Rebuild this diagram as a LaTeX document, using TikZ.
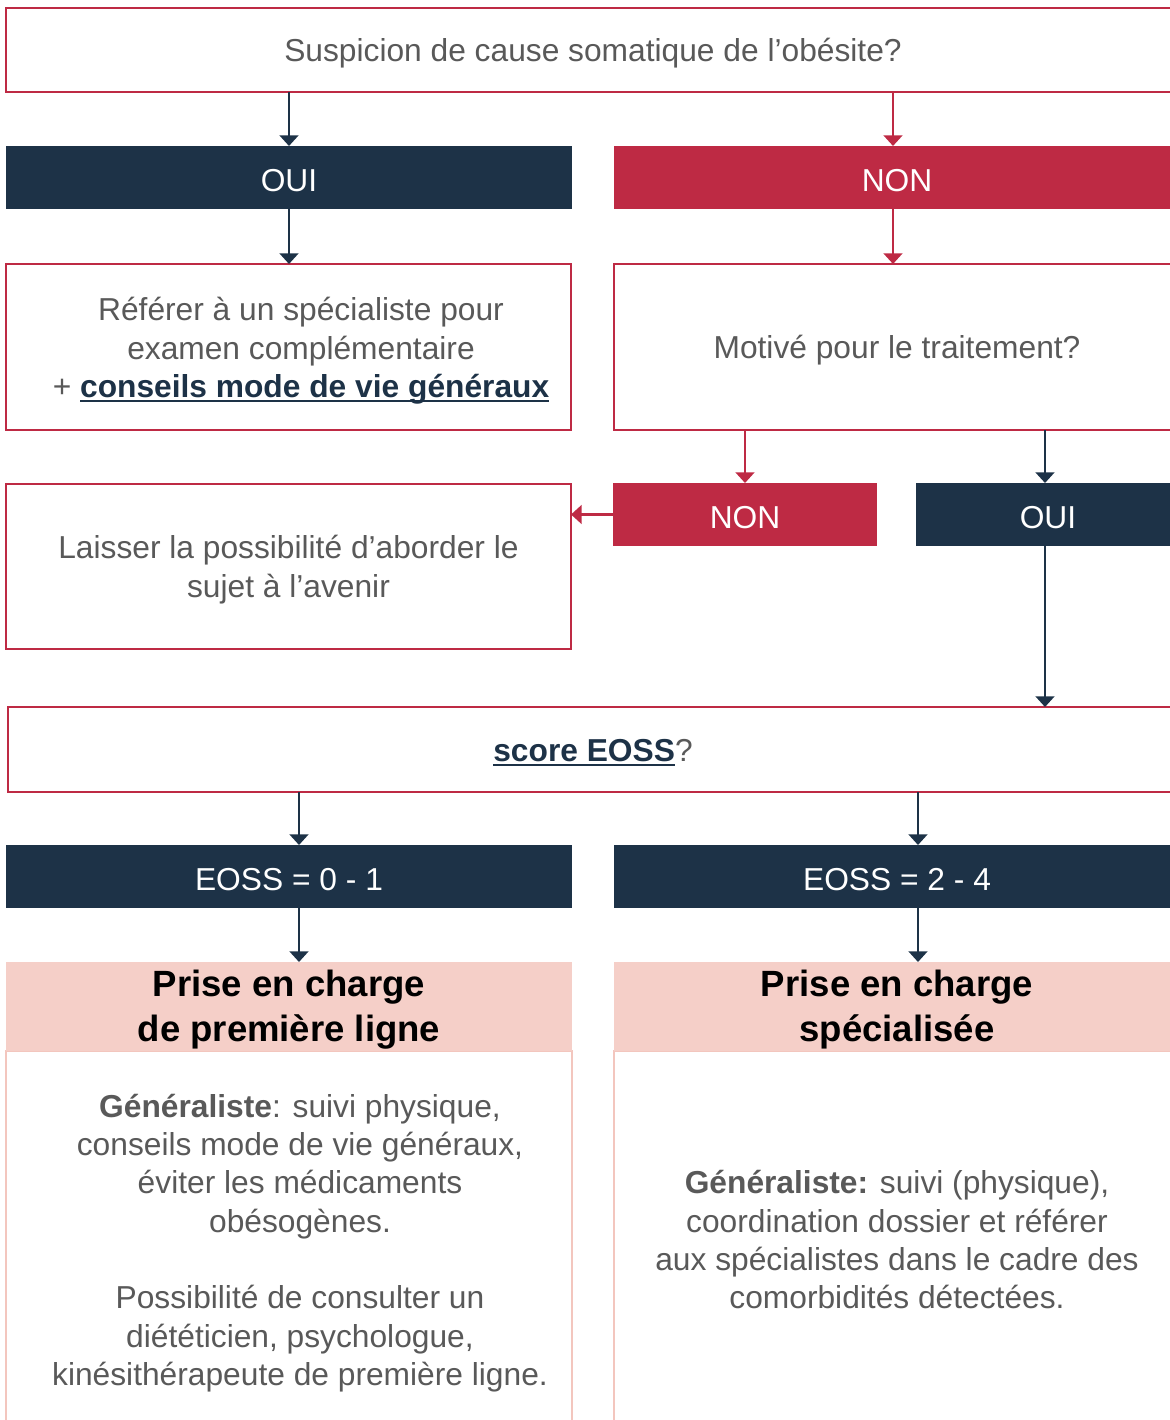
\documentclass[tikz,border=0pt]{standalone}
\usepackage{fontspec}
\setmainfont{Liberation Sans}
\usetikzlibrary{arrows.meta}
\definecolor{cred}{HTML}{BE2A44}
\definecolor{cnavy}{HTML}{1D3247}
\definecolor{cpink}{HTML}{F5CFC8}
\definecolor{cpinkline}{HTML}{F3C6BE}
\definecolor{cgray}{HTML}{595959}
\newlength\pxu
\setlength\pxu{0.75pt}
\newcommand\myul[1]{\leavevmode\setbox0\hbox{#1}\rlap{\rule[-3pt]{\wd0}{1.1pt}}\box0}
% style of box, x1, y1, x2, y2, name, text style, text
\newcommand\boxnode[8]{\node[#1, minimum width={(#4-#2)*\pxu}, minimum height={(#5-#3)*\pxu}] (#6) at ({(#2+#4)/2},{(#3+#5)/2}) {};
  \node[#7] (#6t) at ({(#2+#4)/2},{(#3+#5)/2+3}) {#8};}
\begin{document}
\begin{tikzpicture}[x=0.75pt,y=-0.75pt,
  base/.style={inner sep=0pt, outer sep=0pt, align=center, text=cgray, font=\fontsize{23.8}{28.75}\selectfont},
  redbox/.style={base, draw=cred, line width=1.5pt, fill=white},
  navybox/.style={base, fill=cnavy},
  redfill/.style={base, fill=cred},
  headbox/.style={base, fill=cpink},
  bodybox/.style={base, draw=cpinkline, line width=1.5pt, fill=white},
  txt/.style={base},
  wtxt/.style={base, text=white},
  htxt/.style={base, text=black, font=\fontsize{27.4}{33.75}\selectfont\bfseries},
  arrn/.style={draw=cnavy, line width=2pt, -{Triangle[width=14pt,length=8pt]}},
  arrr/.style={draw=cred, line width=2pt, -{Triangle[width=14pt,length=8pt]}}]
\useasboundingbox (0,0) rectangle (1170,1420);
\clip (0,0) rectangle (1170,1420);

\boxnode{redbox}{6}{8}{1180}{92}{top}{txt}{Suspicion de cause somatique de l’obésite?}
\boxnode{navybox}{6}{146}{572}{209}{oui1}{wtxt}{OUI}
\boxnode{redfill}{614}{146}{1180}{209}{non1}{wtxt}{NON}
\node[redbox, minimum width=565*\pxu, minimum height=166*\pxu] (refer) at (288.5,347) {};
\node[txt] (refertxt) at (301,351) {Référer à un spécialiste pour\\examen complémentaire\\+ \textcolor{cnavy}{\myul{\textbf{conseils mode de vie généraux}}}};
\boxnode{redbox}{614}{264}{1180}{430}{motiv}{txt}{Motivé pour le traitement?}
\boxnode{redfill}{613}{483}{877}{546}{non2}{wtxt}{NON}
\boxnode{navybox}{916}{483}{1180}{546}{oui2}{wtxt}{OUI}
\boxnode{redbox}{6}{484}{571}{649}{laisser}{txt}{Laisser la possibilité d’aborder le\\sujet à l’avenir}
\boxnode{redbox}{8}{707}{1178}{792}{score}{txt}{\textcolor{cnavy}{\myul{\textbf{score EOSS}}}?}
\boxnode{navybox}{6}{845}{572}{908}{eoss1}{wtxt}{EOSS = 0 - 1}
\boxnode{navybox}{614}{845}{1180}{908}{eoss2}{wtxt}{EOSS = 2 - 4}
\node[bodybox, minimum width=566*\pxu, minimum height=399*\pxu] (body1) at (289,1250.5) {};
\node[bodybox, minimum width=566*\pxu, minimum height=399*\pxu] (body2) at (897,1250.5) {};
\boxnode{headbox}{6}{962}{572}{1051}{head1}{htxt}{Prise en charge\\de première ligne}
\boxnode{headbox}{614}{962}{1180}{1051}{head2}{htxt}{Prise en charge\\spécialisée}
\node[txt] (body1txt) at (300,1243) {\textbf{Généraliste}: suivi physique,\\conseils mode de vie généraux,\\éviter les médicaments\\obésogènes.\\[28.75pt]Possibilité de consulter un\\diététicien, psychologue,\\kinésithérapeute de première ligne.};
\node[txt] (body2txt) at (897,1240) {\textbf{Généraliste:} suivi (physique),\\coordination dossier et référer\\aux spécialistes dans le cadre des\\comorbidités détectées.};

\coordinate (c893) at (893,0);
\coordinate (c299) at (299,0);
\coordinate (c918) at (918,0);
\coordinate (c1045) at (1045,0);

\draw[arrn] (top.south -| oui1.north) -- (oui1.north);
\draw[arrr] (top.south -| c893) -- (non1.north -| c893);
\draw[arrn] (oui1.south) -- (refer.north -| oui1.south);
\draw[arrr] (non1.south -| c893) -- (motiv.north -| c893);
\draw[arrr] (motiv.south -| non2.north) -- (non2.north);
\draw[arrn] (motiv.south -| c1045) -- (oui2.north -| c1045);
\draw[arrr] (non2.west) -- (non2.west -| laisser.east);
\draw[arrn] (oui2.south -| c1045) -- (score.north -| c1045);
\draw[arrn] (score.south -| c299) -- (eoss1.north -| c299);
\draw[arrn] (score.south -| c918) -- (eoss2.north -| c918);
\draw[arrn] (eoss1.south -| c299) -- (head1.north -| c299);
\draw[arrn] (eoss2.south -| c918) -- (head2.north -| c918);
\end{tikzpicture}
\end{document}
